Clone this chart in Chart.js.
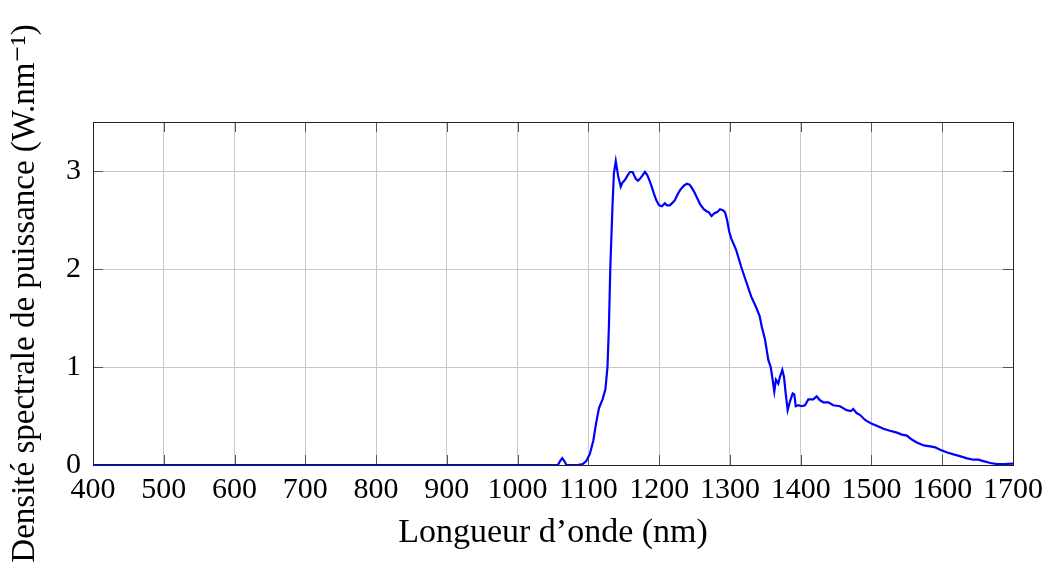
<!DOCTYPE html>
<html>
<head>
<meta charset="utf-8">
<script src="https://cdn.jsdelivr.net/npm/chart.js@4"></script>
<style>
  html, body { margin: 0; padding: 0; background: #fff; }
  #wrap { width: 1044px; height: 571px; position: relative; }
</style>
</head>
<body>
<div id="wrap"><canvas id="myChart"></canvas></div>
<script>
// longueurs d'onde (nm)
let wavelengths = [
    400, 1050, 1057, 1060, 1063, 1066, 1069, 1085, 1092, 1097,
    1102, 1107, 1111, 1115, 1120, 1124, 1127, 1129, 1131, 1134,
    1136, 1138.7, 1142, 1145.7, 1148, 1151.8, 1155, 1158.8, 1162.6, 1165,
    1167, 1170, 1172.8, 1176, 1179.9, 1183, 1186, 1189, 1192.6, 1196,
    1200, 1204, 1208, 1211, 1215, 1218, 1222, 1226, 1230, 1235,
    1239, 1243, 1246, 1250, 1254, 1258, 1263, 1267, 1270, 1274,
    1278, 1282, 1286, 1290, 1293, 1296, 1299, 1302, 1309, 1316,
    1323, 1330, 1337, 1342, 1345, 1349.6, 1354.3, 1357.6, 1360.4, 1362.7,
    1365, 1368.4, 1370.7, 1374, 1376.4, 1378.8, 1381.6, 1384.9, 1388.7, 1391,
    1393, 1396.6, 1401.4, 1406, 1410.8, 1417.8, 1422.6, 1427.3, 1432, 1439,
    1446, 1455.5, 1465, 1470.8, 1474.3, 1479, 1484, 1491, 1500.5, 1507.5,
    1517, 1526, 1536, 1543, 1550, 1557, 1564, 1574, 1583, 1590,
    1597, 1607, 1616, 1626, 1635, 1644, 1651, 1658, 1668, 1677,
    1687, 1700
];

// densité spectrale de puissance (W.nm-1)
let power = [
    0, 0, 0, 0.04, 0.07, 0.04, 0, 0, 0.01, 0.04,
    0.11, 0.25, 0.43, 0.58, 0.67, 0.77, 1.0, 1.41, 2.02, 2.63,
    2.97, 3.1, 2.95, 2.84, 2.88, 2.91, 2.95, 2.99, 2.99, 2.95,
    2.92, 2.90, 2.92, 2.95, 2.99, 2.96, 2.91, 2.85, 2.77, 2.70,
    2.65, 2.64, 2.67, 2.65, 2.65, 2.67, 2.70, 2.76, 2.81, 2.85,
    2.87, 2.86, 2.83, 2.78, 2.72, 2.66, 2.61, 2.59, 2.58, 2.54,
    2.57, 2.58, 2.61, 2.60, 2.58, 2.50, 2.38, 2.31, 2.19, 2.02,
    1.87, 1.72, 1.61, 1.52, 1.41, 1.28, 1.07, 1.0, 0.87, 0.75,
    0.87, 0.83, 0.9, 0.97, 0.9, 0.73, 0.56, 0.65, 0.73, 0.72,
    0.60, 0.61, 0.60, 0.61, 0.67, 0.67, 0.70, 0.66, 0.64, 0.64,
    0.61, 0.60, 0.56, 0.55, 0.57, 0.53, 0.51, 0.46, 0.42, 0.40,
    0.37, 0.35, 0.33, 0.31, 0.30, 0.26, 0.23, 0.20, 0.19, 0.18,
    0.155, 0.128, 0.108, 0.088, 0.068, 0.054, 0.054, 0.04, 0.02, 0.01,
    0.01, 0.015
];

let xTicks = [400, 500, 600, 700, 800, 900, 1000, 1100, 1200, 1300, 1400, 1500, 1600, 1700];
let yTicks = [0, 1, 2, 3];

const FONT = "'Liberation Serif', 'DejaVu Serif', serif";
const BLUE = "rgb(0, 0, 255)";

let points = wavelengths.map((w, i) => ({x: w, y: power[i]}));

// cadre + petites graduations vers l'intérieur (style pgfplots)
let frame = {
    id: 'frame',
    beforeDatasetsDraw(chart) {
        let {ctx, chartArea: a, scales} = chart;
        ctx.save();
        ctx.strokeStyle = '#555';
        ctx.lineWidth = 1;
        ctx.beginPath();
        xTicks.forEach(v => {
            let px = Math.round(scales.x.getPixelForValue(v)) + 0.5;
            ctx.moveTo(px, a.bottom); ctx.lineTo(px, a.bottom - 10);
            ctx.moveTo(px, a.top); ctx.lineTo(px, a.top + 10);
        });
        yTicks.forEach(v => {
            let py = Math.round(scales.y.getPixelForValue(v)) + 0.5;
            ctx.moveTo(a.left, py); ctx.lineTo(a.left + 10, py);
            ctx.moveTo(a.right, py); ctx.lineTo(a.right - 10, py);
        });
        ctx.stroke();
        ctx.strokeStyle = '#222';
        ctx.strokeRect(a.left + 0.5, a.top + 0.5, a.right - a.left, a.bottom - a.top);
        ctx.restore();
    }
};

let data = {
    datasets: [{
        data: points,
        borderColor: BLUE,
        backgroundColor: BLUE,
        borderWidth: 2.2,
        pointRadius: 0,
        tension: 0,
        fill: false,
    }]
};

let config = {
    type: 'line',
    data: data,
    plugins: [frame],
    options: {
        responsive: false,
        animation: false,
        layout: { padding: { top: 122, right: 31, left: 0, bottom: 0 } },
        plugins: { legend: { display: false }, tooltip: { enabled: false } },
        scales: {
            x: {
                type: 'linear',
                min: 400,
                max: 1700,
                afterBuildTicks: s => { s.ticks = xTicks.map(v => ({value: v})); },
                afterFit: s => { s.height = 106; s.paddingRight = 0; },
                grid: { color: '#c8c8c8', drawTicks: false },
                border: { display: false },
                ticks: {
                    padding: 7,
                    color: '#000',
                    maxRotation: 0,
                    autoSkip: false,
                    font: { family: FONT, size: 30 },
                    callback: v => String(v),
                },
                title: {
                    display: true,
                    text: 'Longueur d\u2019onde (nm)',
                    color: '#000',
                    font: { family: FONT, size: 34 },
                    padding: { top: 0, bottom: 18 },
                },
            },
            y: {
                min: 0,
                max: 3.5,
                afterBuildTicks: s => { s.ticks = yTicks.map(v => ({value: v})); },
                afterFit: s => { s.width = 93; },
                grid: { color: '#c8c8c8', drawTicks: false },
                border: { display: false },
                ticks: {
                    padding: 12,
                    color: '#000',
                    font: { family: FONT, size: 30 },
                    callback: v => String(v),
                },
                title: {
                    display: true,
                    text: 'Densité spectrale de puissance (W.nm\u207B\u00B9)',
                    color: '#000',
                    font: { family: FONT, size: 33 },
                    padding: { top: 6, bottom: 0 },
                },
            },
        },
    },
};

let canvas = document.getElementById('myChart');
canvas.width = 1044;
canvas.height = 571;
let myChart = new Chart(canvas, config);
</script>
</body>
</html>
